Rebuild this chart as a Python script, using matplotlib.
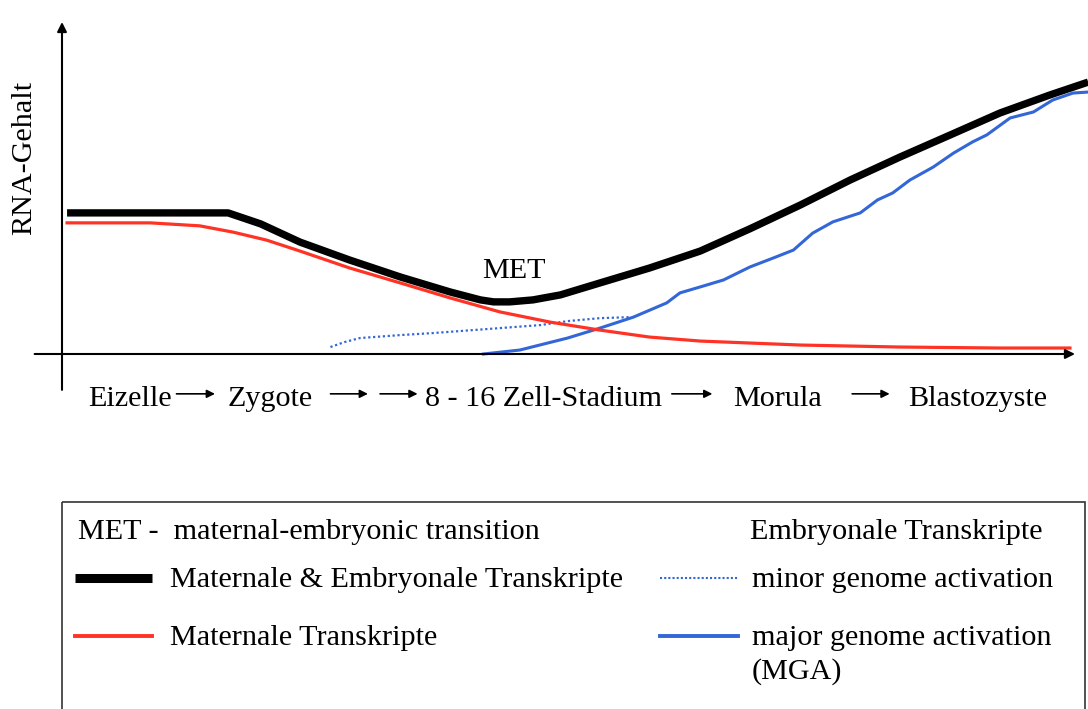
import matplotlib
matplotlib.use("Agg")
import matplotlib.pyplot as plt
from matplotlib.lines import Line2D
from matplotlib.patches import Rectangle

plt.rcParams['font.family'] = ['Liberation Serif', 'DejaVu Serif']

# time axis (0..100 = egg -> blastocyst), RNA content (0..100)
total_x = [0.5, 8.7, 16.4, 19.6, 23.5, 28.4, 33.4, 38.3, 41.3, 42.6, 44.2, 46.5,
           49.2, 53.1, 58.0, 63.0, 67.9, 72.9, 77.8, 82.7, 87.7, 92.6, 97.5, 101.3]
total_y = [42.5, 42.5, 42.5, 39.2, 33.7, 28.3, 23.2, 18.7, 16.3, 15.7, 15.7, 16.3,
           17.8, 21.4, 25.9, 31.0, 37.7, 44.9, 52.4, 59.3, 66.0, 72.6, 78.0, 81.9]

maternal_x = [0.5, 8.7, 13.6, 16.9, 20.2, 23.5, 28.4, 33.4, 38.3, 43.2, 48.2, 53.1,
              58.0, 63.0, 72.9, 82.7, 92.6, 99.5]
maternal_y = [39.5, 39.5, 38.6, 36.7, 34.3, 31.0, 25.9, 21.4, 16.9, 12.7, 9.6, 7.2,
              5.1, 3.9, 2.7, 2.1, 1.8, 1.8]

minor_x = [26.5, 27.9, 29.4, 33.4, 36.6, 43.2, 47.2, 49.9, 53.1, 56.1]
minor_y = [2.1, 3.6, 4.8, 5.7, 6.3, 7.8, 8.7, 9.9, 10.8, 11.1]

major_x = [41.6, 45.2, 49.9, 53.1, 56.4, 59.7, 61.0, 63.0, 65.3, 67.9, 70.2, 72.2,
           74.1, 76.1, 78.8, 80.5, 82.0, 83.7, 86.0, 88.0, 89.9, 91.3, 93.6, 95.9,
           97.8, 99.8, 101.3]
major_y = [0.0, 1.2, 4.8, 7.8, 11.1, 15.4, 18.4, 20.2, 22.3, 26.2, 28.9, 31.3,
           36.4, 39.8, 42.5, 46.4, 48.5, 52.4, 56.3, 60.5, 63.9, 66.0, 71.1, 72.9,
           76.5, 78.6, 78.9]

stages = ['Eizelle', 'Zygote', '8 - 16 Zell-Stadium', 'Morula', 'Blastozyste']
stage_pos = [6.7, 20.5, 47.5, 70.6, 90.4]
arrow_pos = [(11.3, 15.1), (26.5, 30.2), (31.4, 35.1), (60.2, 64.2), (78.0, 81.7)]

RED = '#ff3325'
BLUE = '#3366d6'
FS = 21.7

fig = plt.figure(figsize=(10.88, 7.09), dpi=100)
W, H = 1088, 709
ax = fig.add_axes([62 / W, 1 - 354 / H, (1075 - 62) / W, (354 - 22) / H])
ax.set_xlim(0, 100)
ax.set_ylim(0, 100)
ax.axis('off')

# axes with arrow heads
ax.annotate('', xy=(0, 100), xytext=(0, -10.8), annotation_clip=False,
            arrowprops=dict(arrowstyle='-|>', lw=1.5, color='black',
                            mutation_scale=14, shrinkA=0, shrinkB=0))
ax.annotate('', xy=(100, 0), xytext=(-2.7, 0), annotation_clip=False,
            arrowprops=dict(arrowstyle='-|>', lw=1.5, color='black',
                            mutation_scale=14, shrinkA=0, shrinkB=0))

ax.plot(minor_x, minor_y, color=BLUE, lw=1.6, ls=(0, (1, 1.2)), clip_on=False)
ax.plot(major_x, major_y, color=BLUE, lw=2.2, clip_on=False)
ax.plot(maternal_x, maternal_y, color=RED, lw=2.3, clip_on=False)
ax.plot(total_x, total_y, color='black', lw=5.3, solid_capstyle='butt',
        solid_joinstyle='round', clip_on=False)

ax.text(44.6, 25.0, 'MET', fontsize=FS, ha='center', va='center')
ax.text(-3.7, 59.0, 'RNA-Gehalt', fontsize=FS, rotation=90, ha='center', va='center')

for name, x in zip(stages, stage_pos):
    ax.text(x, -13.6, name, fontsize=FS, ha='center', va='center', clip_on=False)
for x0, x1 in arrow_pos:
    ax.annotate('', xy=(x1, -12.0), xytext=(x0, -12.0), annotation_clip=False,
                arrowprops=dict(arrowstyle='-|>', lw=1.2, color='black',
                                mutation_scale=12, shrinkA=0, shrinkB=0))

# legend box drawn in pixel coordinates
lg = fig.add_axes([0, 0, 1, 1])
lg.set_xlim(0, W)
lg.set_ylim(H, 0)
lg.axis('off')
lg.add_patch(Rectangle((62, 502), 1085 - 62, 260, fill=False, lw=1.2, ec='#333333'))

lg.text(78, 532, 'MET -  maternal-embryonic transition', fontsize=FS, va='center')
lg.text(750, 532, 'Embryonale Transkripte', fontsize=FS, va='center')
lg.add_line(Line2D([75, 152], [578, 578], color='black', lw=6.5, solid_capstyle='butt'))
lg.text(170, 580, 'Maternale & Embryonale Transkripte', fontsize=FS, va='center')
lg.add_line(Line2D([75, 152], [636, 636], color=RED, lw=2.8))
lg.text(170, 638, 'Maternale Transkripte', fontsize=FS, va='center')
lg.add_line(Line2D([660, 738], [578, 578], color=BLUE, lw=1.5, ls=(0, (1, 1))))
lg.text(752, 580, 'minor genome activation', fontsize=FS, va='center')
lg.add_line(Line2D([660, 738], [636, 636], color=BLUE, lw=2.8))
lg.text(752, 638, 'major genome activation', fontsize=FS, va='center')
lg.text(752, 672, '(MGA)', fontsize=FS, va='center')

fig.savefig('out.png', dpi=100)
